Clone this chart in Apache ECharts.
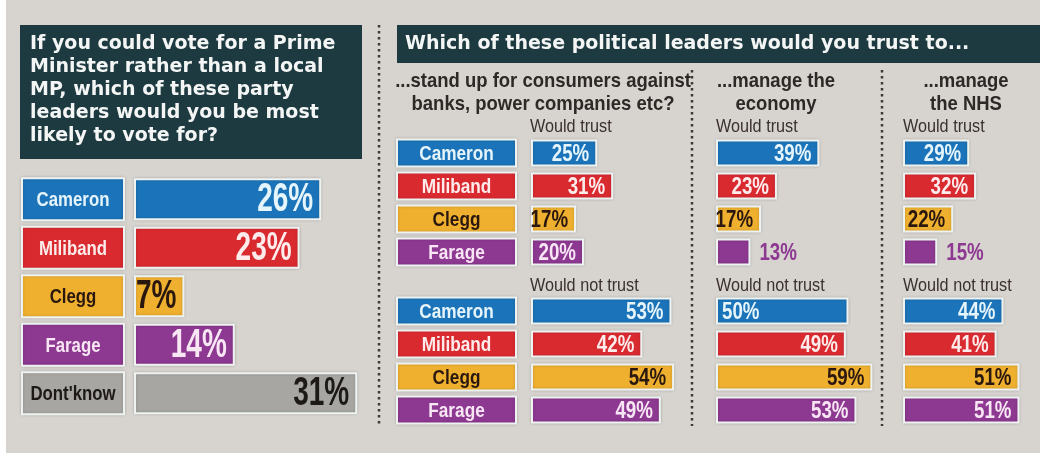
<!DOCTYPE html>
<html>
<head>
<meta charset="utf-8">
<script src="https://cdn.jsdelivr.net/npm/echarts@6/dist/echarts.min.js"></script>
<style>
  html, body { margin: 0; padding: 0; background: #ffffff; }
  #chart { width: 1040px; height: 457px; }
</style>
</head>
<body>
<div id="chart"></div>
<script>
// Poll data: Prime Minister preference and trust in party leaders
const voteCategories = ['Cameron', 'Miliband', 'Clegg', 'Farage', "Dont'know"];
const voteShare = [26, 23, 7, 14, 31];

const leaders = ['Cameron', 'Miliband', 'Clegg', 'Farage'];
const consumersTrust = [25, 31, 17, 20];
const consumersDistrust = [53, 42, 54, 49];
const economyTrust = [39, 23, 17, 13];
const economyDistrust = [50, 49, 59, 53];
const nhsTrust = [29, 32, 22, 15];
const nhsDistrust = [44, 41, 51, 51];

const panelTitles = [
  ['...stand up for consumers against', 'banks, power companies etc?'],
  ['...manage the', 'economy'],
  ['...manage', 'the NHS']
];
const trustHeading = 'Would trust';
const distrustHeading = 'Would not trust';
const leftQuestion = 'If you could vote for a Prime\nMinister rather than a local\nMP, which of these party\nleaders would you be most\nlikely to vote for?';
const rightQuestion = 'Which of these political leaders would you trust to...';

// Colour per leader: fill, text on fill
const palette = {
  'Cameron':   { fill: '#1b74b9', text: '#e6f5fb' },
  'Miliband':  { fill: '#d92a30', text: '#fdeceb' },
  'Clegg':     { fill: '#efb030', text: '#2a180e' },
  'Farage':    { fill: '#8d3891', text: '#f8e6f4' },
  "Dont'know": { fill: '#a8a6a3', text: '#1c1917' }
};

// Narrow lettering is drawn with Liberation Sans squeezed horizontally
const NARROW = '"Liberation Sans", Arial, sans-serif';
const WIDE = '"DejaVu Sans", sans-serif';
const BORDER = '#eef3f2';

// Value label at the end of each bar
function valueLabels(cats, fontSize, squeeze, overrides) {
  overrides = overrides || {};
  return function (params, api) {
    const v = api.value(0);
    const i = api.value(1);
    const end = api.coord([v, i]);
    const start = api.coord([0, i]);
    const pos = overrides[i] || 'insideRight';
    let x, align, fill = palette[cats[i]].text;
    if (pos === 'right') { x = end[0] + 9; align = 'left'; fill = palette[cats[i]].fill; }
    else if (pos === 'insideLeft') { x = start[0] + 6; align = 'left'; }
    else { x = end[0] - 8; align = 'right'; }
    return {
      type: 'text', x: x, y: end[1] + 1, scaleX: squeeze,
      style: { text: v + '%', align: align, verticalAlign: 'middle', font: 'bold ' + fontSize + 'px ' + NARROW, fill: fill }
    };
  };
}

// Coloured name box to the left of each bar row
function nameBoxes(cats, w, h, gap, fontSize, squeeze) {
  return function (params, api) {
    const i = api.value(1);
    const p = api.coord([0, i]);
    const x0 = p[0] - gap - w;
    const c = palette[cats[i]];
    return {
      type: 'group',
      children: [
        { type: 'rect', shape: { x: x0, y: p[1] - h / 2, width: w, height: h },
          style: { fill: c.fill, stroke: BORDER, lineWidth: 2, shadowColor: 'rgba(0,0,0,0.18)', shadowBlur: 3 } },
        { type: 'text', x: x0 + w / 2, y: p[1] + 1, scaleX: squeeze,
          style: { text: cats[i], align: 'center', verticalAlign: 'middle', font: 'bold ' + fontSize + 'px ' + NARROW, fill: c.text } }
      ]
    };
  };
}

const chart = echarts.init(document.getElementById('chart'), null, { renderer: 'canvas' });

const grids = [];
const xAxes = [];
const yAxes = [];
const series = [];

function addPanel(cfg) {
  const idx = grids.length;
  grids.push({ left: cfg.left, top: cfg.top, width: cfg.width, height: cfg.height, containLabel: false });
  xAxes.push({ gridIndex: idx, type: 'value', min: 0, max: cfg.max, show: false });
  yAxes.push({
    gridIndex: idx, type: 'category', inverse: true, data: cfg.cats,
    axisLine: { show: false }, axisTick: { show: false }, splitLine: { show: false }, axisLabel: { show: false }
  });
  const pairs = cfg.values.map((v, i) => [v, i]);
  series.push({
    type: 'bar', xAxisIndex: idx, yAxisIndex: idx, barWidth: cfg.barWidth,
    data: cfg.values.map((v, i) => ({ value: v, itemStyle: { color: palette[cfg.cats[i]].fill } })),
    itemStyle: { borderColor: BORDER, borderWidth: 2, shadowColor: 'rgba(0,0,0,0.18)', shadowBlur: 3 },
    label: { show: false }, silent: true
  });
  series.push({
    type: 'custom', xAxisIndex: idx, yAxisIndex: idx, z: 3, silent: true,
    encode: { x: 0, y: 1 }, data: pairs,
    renderItem: valueLabels(cfg.cats, cfg.labelSize, cfg.labelSqueeze, cfg.overrides)
  });
  if (cfg.boxes) {
    series.push({
      type: 'custom', xAxisIndex: idx, yAxisIndex: idx, z: 3, silent: true,
      encode: { x: 0, y: 1 }, data: cfg.cats.map((c, i) => [0, i]),
      renderItem: nameBoxes(cfg.cats, cfg.boxWidth, cfg.boxHeight, cfg.boxGap, cfg.boxFont, cfg.boxSqueeze)
    });
  }
}

// Left: Prime Minister preference
addPanel({
  left: 134, top: 175, width: 288, height: 242.5, max: 40,
  cats: voteCategories, values: voteShare, barWidth: 42,
  labelSize: 40, labelSqueeze: 0.7,
  boxes: true, boxGap: 10, boxWidth: 102, boxHeight: 42, boxFont: 21, boxSqueeze: 0.8
});

// Right: trust panels
const panelLefts = [531, 716, 903];
const trustSets = [consumersTrust, economyTrust, nhsTrust];
const distrustSets = [consumersDistrust, economyDistrust, nhsDistrust];
const trustOverrides = [{}, { 3: 'right' }, { 3: 'right' }];
const distrustOverrides = [{}, { 0: 'insideLeft' }, {}];

panelLefts.forEach((x, p) => {
  [[trustSets[p], 136.5, trustOverrides[p]], [distrustSets[p], 294.5, distrustOverrides[p]]].forEach(([vals, top, ov]) => {
    addPanel({
      left: x, top: top, width: 159, height: 132, max: 60,
      cats: leaders, values: vals, barWidth: 27, overrides: ov,
      labelSize: 24, labelSqueeze: 0.78,
      boxes: p === 0, boxGap: 15, boxWidth: 119, boxHeight: 27, boxFont: 20, boxSqueeze: 0.86
    });
  });
});

// Headings, header boxes and dotted separators
const graphics = [
  { type: 'rect', z: -10, shape: { x: 6, y: 0, width: 1034, height: 453 }, style: { fill: '#d7d4d0' }, silent: true },
  { type: 'rect', shape: { x: 20, y: 25, width: 342, height: 134 }, style: { fill: '#1e3a41' }, silent: true },
  { type: 'text', x: 30, y: 33, style: { text: leftQuestion, fill: '#f4f6f5', font: 'bold 19px ' + WIDE, lineHeight: 23 }, silent: true },
  { type: 'rect', shape: { x: 397, y: 25, width: 643, height: 38 }, style: { fill: '#1e3a41' }, silent: true },
  { type: 'text', x: 405, y: 44, style: { text: rightQuestion, fill: '#f4f6f5', font: 'bold 19px ' + WIDE, verticalAlign: 'middle' }, silent: true }
];

const sepStyle = { stroke: '#3b3937', lineWidth: 2.5, lineDash: [2.5, 3.5] };
[[379, 25], [692, 70], [882, 70]].forEach(([x, y0]) => {
  graphics.push({ type: 'line', shape: { x1: x, y1: y0, x2: x, y2: 426 }, style: sepStyle, silent: true });
});

const titleCenters = [543, 776, 966];
panelTitles.forEach((lines, p) => {
  graphics.push({
    type: 'text', x: titleCenters[p], y: 70, scaleX: 0.88,
    style: { text: lines.join('\n'), fill: '#2d2927', font: 'bold 21px ' + NARROW, align: 'center', lineHeight: 23 },
    silent: true
  });
  const hx = panelLefts[p] - (p === 0 ? 1 : 0);
  graphics.push({ type: 'text', x: hx, y: 127, scaleX: 0.9, style: { text: trustHeading, fill: '#3a302c', font: '18px ' + NARROW, verticalAlign: 'middle' }, silent: true });
  graphics.push({ type: 'text', x: hx, y: 286, scaleX: 0.9, style: { text: distrustHeading, fill: '#3a302c', font: '18px ' + NARROW, verticalAlign: 'middle' }, silent: true });
});

chart.setOption({
  backgroundColor: '#ffffff',
  animation: false,
  grid: grids,
  xAxis: xAxes,
  yAxis: yAxes,
  series: series,
  graphic: graphics
});
</script>
</body>
</html>
